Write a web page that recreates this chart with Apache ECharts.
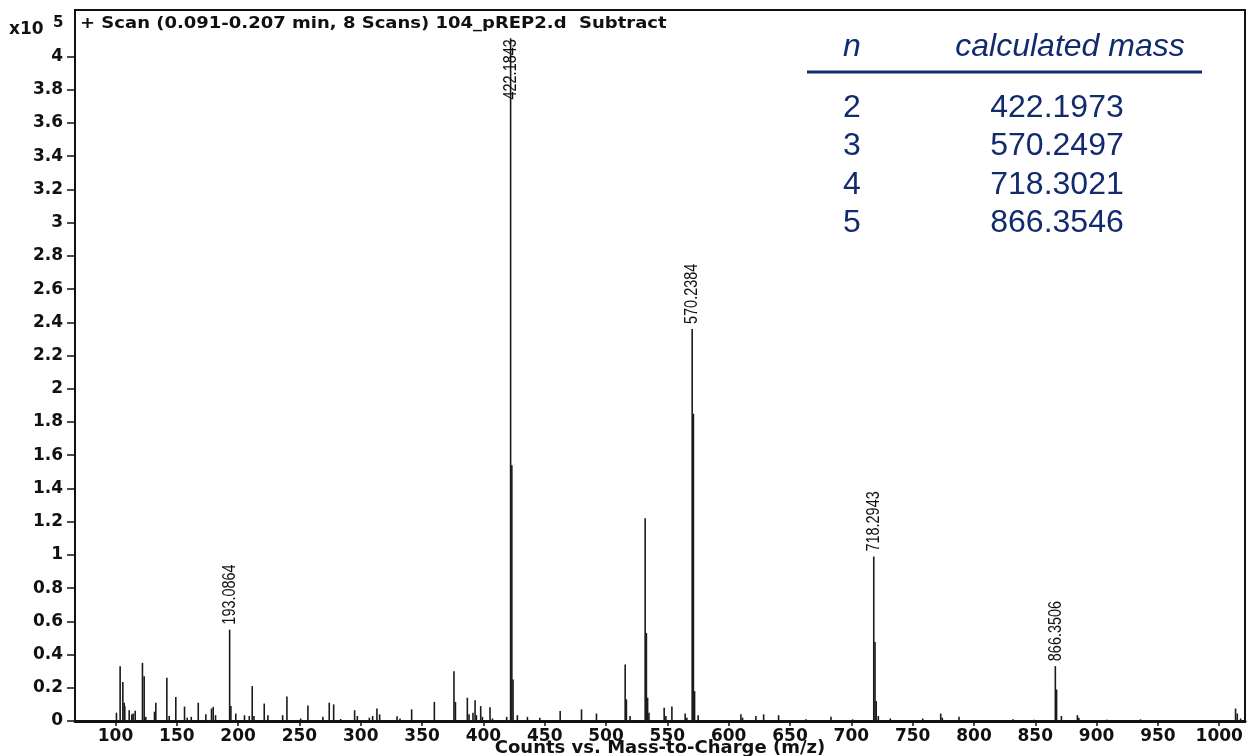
<!DOCTYPE html>
<html>
<head>
<meta charset="utf-8">
<title>Mass spectrum – 104_pREP2.d</title>
<script src="https://cdn.jsdelivr.net/npm/echarts@6/dist/echarts.min.js"></script>
<style>
  html, body { margin: 0; padding: 0; background: #ffffff; }
  #chart { width: 1248px; height: 756px; }
</style>
</head>
<body>
<div id="chart"></div>
<script>
// Centroid peaks: m/z and intensity (counts, x10^5)
const peakMz = [
  100.8, 103.8, 106.0, 107.1, 107.6, 111.2, 113.3, 114.4, 116.1, 122.0,
  123.4, 124.7, 131.8, 132.9, 141.9, 143.8, 149.2, 156.3, 158.5, 161.8,
  167.5, 173.7, 178.3, 179.7, 181.6, 193.0864, 194.1, 198.1, 205.2, 209.1,
  211.5, 212.9, 221.3, 224.3, 236.3, 239.8, 251.0, 256.9, 269.1, 274.3,
  277.9, 283.6, 295.0, 297.2, 307.0, 309.7, 313.2, 315.4, 329.6, 332.0,
  341.5, 360.0, 376.0, 377.2, 386.9, 388.3, 391.5, 393.2, 394.3, 397.8,
  399.2, 405.4, 407.4, 419.0, 422.1843, 423.19, 424.19, 427.7, 435.9, 446.0,
  462.6, 480.0, 492.2, 515.6, 516.6, 519.6, 531.9, 532.9, 533.9, 535.0,
  547.4, 548.8, 553.7, 564.5, 565.9, 570.2384, 571.24, 572.2, 575.1, 610.0,
  611.3, 622.2, 628.5, 640.7, 663.0, 683.4, 701.0, 718.2943, 719.3, 720.3,
  722.0, 731.8, 758.2, 772.9, 774.2, 787.8, 831.9, 848.8, 866.3506, 867.35,
  871.3, 884.3, 885.5, 908.3, 935.8, 980.0, 1013.3, 1014.7, 1017.4
];
const peakCounts = [
  0.05, 0.33, 0.235, 0.11, 0.09, 0.065, 0.04, 0.045, 0.062, 0.35,
  0.27, 0.025, 0.056, 0.11, 0.26, 0.03, 0.145, 0.087, 0.02, 0.025,
  0.11, 0.04, 0.075, 0.085, 0.035, 0.55, 0.09, 0.045, 0.035, 0.03,
  0.21, 0.03, 0.105, 0.035, 0.035, 0.147, 0.015, 0.093, 0.025, 0.11,
  0.10, 0.012, 0.065, 0.03, 0.02, 0.03, 0.075, 0.04, 0.028, 0.015,
  0.07, 0.115, 0.30, 0.115, 0.14, 0.04, 0.05, 0.125, 0.035, 0.09,
  0.025, 0.083, 0.015, 0.025, 4.11, 1.54, 0.25, 0.035, 0.025, 0.02,
  0.06, 0.07, 0.045, 0.34, 0.13, 0.03, 1.22, 0.53, 0.14, 0.05,
  0.08, 0.03, 0.088, 0.045, 0.02, 2.36, 1.85, 0.18, 0.035, 0.04,
  0.02, 0.03, 0.04, 0.035, 0.01, 0.025, 0.01, 0.99, 0.475, 0.12,
  0.03, 0.015, 0.015, 0.045, 0.02, 0.025, 0.01, 0.008, 0.33, 0.19,
  0.03, 0.035, 0.02, 0.008, 0.01, 0.005, 0.075, 0.045, 0.015
];
// Peaks annotated with their measured m/z
const labeledMz = [193.0864, 422.1843, 570.2384, 718.2943, 866.3506];

// Axis ticks
const xTicks = [100, 150, 200, 250, 300, 350, 400, 450, 500, 550, 600, 650, 700, 750, 800, 850, 900, 950, 1000];
const yTicks = [0, 0.2, 0.4, 0.6, 0.8, 1, 1.2, 1.4, 1.6, 1.8, 2, 2.2, 2.4, 2.6, 2.8, 3, 3.2, 3.4, 3.6, 3.8, 4];

// Table of calculated masses
const tableN = ['2', '3', '4', '5'];
const tableMass = ['422.1973', '570.2497', '718.3021', '866.3546'];

const titleText = '+ Scan (0.091-0.207 min, 8 Scans) 104_pREP2.d  Subtract';
const xAxisTitle = 'Counts vs. Mass-to-Charge (m/z)';

const AXIS_FONT = '"DejaVu Sans", "Liberation Sans", sans-serif';
const TABLE_FONT = '"Liberation Sans", Arial, sans-serif';
const NAVY = '#112b6c';
const INK = '#111111';

const barData = peakMz.map((mz, i) => [mz, peakCounts[i]]);
const labelData = labeledMz.map(mz => [mz, peakCounts[peakMz.indexOf(mz)]]);

// Peak annotations: condensed, rotated text sitting above each labelled peak.
// A peak reaching the top of the frame gets its label hung just below its tip.
function renderPeakLabel(params, api) {
  const mz = api.value(0);
  const h = api.value(1);
  const p = api.coord([mz, h]);
  const clipped = h > 3.9;
  return {
    type: 'text',
    x: p[0],
    y: clipped ? p[1] + 1 : p[1] - 5,
    rotation: Math.PI / 2,
    scaleX: 0.76,
    style: {
      text: mz.toFixed(4),
      font: '19px "Liberation Sans", Arial, sans-serif',
      fill: '#111',
      align: clipped ? 'right' : 'left',
      verticalAlign: 'middle'
    }
  };
}

const chart = echarts.init(document.getElementById('chart'), null, { renderer: 'canvas' });

const graphics = [
  { type: 'text', x: 80, y: 24, scaleX: 1.2, style: { text: titleText, font: 'bold 15px ' + AXIS_FONT, fill: INK, verticalAlign: 'middle' } },
  { type: 'text', left: 9, top: 21, style: { text: 'x10', font: 'bold 17px ' + AXIS_FONT, fill: INK } },
  { type: 'text', left: 53, top: 16, style: { text: '5', font: 'bold 15px ' + AXIS_FONT, fill: INK } },
  { type: 'text', x: 852, y: 47, style: { text: 'n', font: 'italic 32px ' + TABLE_FONT, fill: NAVY, align: 'center', verticalAlign: 'middle' } },
  { type: 'text', x: 1070, y: 47, style: { text: 'calculated mass', font: 'italic 32px ' + TABLE_FONT, fill: NAVY, align: 'center', verticalAlign: 'middle' } },
  { type: 'line', shape: { x1: 807, y1: 72, x2: 1202, y2: 72 }, style: { stroke: NAVY, lineWidth: 3 } }
];
const rowY = [108, 146.5, 185, 223.5];
tableN.forEach((n, i) => {
  graphics.push({ type: 'text', x: 852, y: rowY[i], style: { text: n, font: '32px ' + TABLE_FONT, fill: NAVY, align: 'center', verticalAlign: 'middle' } });
  graphics.push({ type: 'text', x: 1057, y: rowY[i], style: { text: tableMass[i], font: '32px ' + TABLE_FONT, fill: NAVY, align: 'center', verticalAlign: 'middle' } });
});

chart.setOption({
  backgroundColor: '#ffffff',
  animation: false,
  grid: {
    left: 75, right: 3, top: 10, bottom: 35,
    containLabel: false,
    outerBoundsMode: 'none',
    show: true, borderColor: INK, borderWidth: 2, backgroundColor: 'transparent'
  },
  xAxis: {
    type: 'value',
    min: 67, max: 1021,
    name: xAxisTitle,
    nameLocation: 'middle',
    nameGap: 18,
    nameMoveOverlap: false,
    nameTextStyle: { fontFamily: AXIS_FONT, fontSize: 18, fontWeight: 'bold', color: INK, verticalAlign: 'top' },
    axisLine: { show: true, onZero: false, lineStyle: { color: INK, width: 3 } },
    axisTick: { show: true, customValues: xTicks, length: 5, inside: false, lineStyle: { color: INK, width: 1.5 } },
    axisLabel: {
      customValues: xTicks, margin: 7, fontFamily: AXIS_FONT, fontSize: 17, fontWeight: 'bold', color: INK,
      formatter: v => String(v)
    },
    splitLine: { show: false }
  },
  yAxis: {
    type: 'value',
    min: 0, max: 4.28,
    axisLine: { show: true, lineStyle: { color: INK, width: 2 } },
    axisTick: { show: true, customValues: yTicks, length: 8, lineStyle: { color: INK, width: 1.5 } },
    axisLabel: {
      customValues: yTicks, margin: 12, fontFamily: AXIS_FONT, fontSize: 17, fontWeight: 'bold', color: INK,
      formatter: v => String(v)
    },
    splitLine: { show: false }
  },
  series: [
    {
      type: 'bar',
      data: barData,
      barWidth: 1.6,
      itemStyle: { color: '#1a1a1a' },
      clip: false
    },
    {
      type: 'custom',
      data: labelData,
      renderItem: renderPeakLabel,
      clip: false,
      silent: true,
      z: 5
    }
  ],
  graphic: graphics
});
</script>
</body>
</html>
